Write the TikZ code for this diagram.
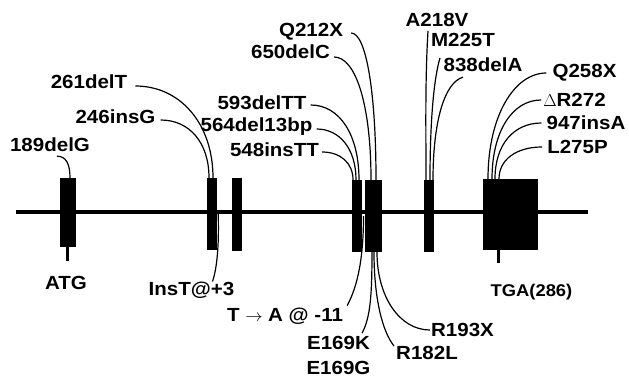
\documentclass[tikz,border=0pt]{standalone}
\usepackage{fontspec}
\setmainfont{Liberation Sans}[FakeStretch=1.08]
\usetikzlibrary{positioning, calc}

\begin{document}
\begin{tikzpicture}[x=1pt, y=-1pt,
  exon/.style={fill=black, draw=none, inner sep=0pt},
  mut/.style={font=\bfseries\fontsize{19}{21}\selectfont, inner sep=0pt},
  lead/.style={line width=1.2pt},
  stem/.style={line width=3pt}]
  \useasboundingbox (0,0) rectangle (629,380);

  % backbone and exons
  \coordinate (bbL) at (16,212);
  \coordinate (bbR) at (588,212);
  \draw[line width=4.5pt] (bbL) -- (bbR);
  \node[exon, minimum width=16pt, minimum height=69pt] (ex1) at (68,212.5) {};
  \node[exon, minimum width=10pt, minimum height=72pt] (ex2) at (212,214) {};
  \node[exon, minimum width=10pt, minimum height=73pt] (ex3) at (237,214.5) {};
  \node[exon, minimum width=10pt, minimum height=72pt] (ex4) at (357,216) {};
  \node[exon, minimum width=17pt, minimum height=72pt] (ex5) at (373.5,216) {};
  \node[exon, minimum width=10pt, minimum height=72pt] (ex6) at (429,216) {};
  \node[exon, minimum width=55pt, minimum height=71pt] (ex7) at (510.5,214.5) {};

  \coordinate (atgtick) at (67,261);
  \coordinate (tgatick) at (498,263);
  \draw[stem] (ex1.south -| atgtick) -- (atgtick);
  \draw[stem] (ex7.south -| tgatick) -- (tgatick);

  % start and stop
  \node[mut] (atg) at (66,283) {ATG};
  \node[mut, font=\bfseries\fontsize{17}{19}\selectfont] (tga) at (531.5,292) {TGA(286)};

  % mutations above the gene
  \node[mut] (m189) at (50,145) {189delG};
  \node[mut] (m261) at (89,82) {261delT};
  \node[mut] (m246) at (115.5,117) {246insG};
  \node[mut] (m593) at (262,103) {593delTT};
  \node[mut] (m564) at (256.5,127) {564del13bp};
  \node[mut] (m548) at (274.5,150) {548insTT};
  \node[mut] (q212) at (311,32) {Q212X};
  \node[mut] (m650) at (290.5,52) {650delC};
  \node[mut] (a218) at (437,20) {A218V};
  \node[mut] (m225) at (463,40) {M225T};
  \node[mut] (m838) at (483,65) {838delA};
  \node[mut] (q258) at (584.5,73) {Q258X};
  \node[mut] (dr272) at (574.5,100) {$\Delta$R272};
  \node[mut] (m947) at (586,123) {947insA};
  \node[mut] (l275) at (577.5,147) {L275P};

  \draw[lead] ([xshift=7pt,yshift=-4pt]m189.south) .. controls +(9,0) and +(0,-14) .. ([xshift=2pt]ex1.north);
  \draw[lead] ([xshift=8pt,yshift=-4pt]m261.east) .. controls +(45,0) and +(0,-54) .. ([xshift=1pt]ex2.north);
  \draw[lead] ([xshift=5pt,yshift=-3pt]m246.east) .. controls +(29,0) and +(0,-35) .. ([xshift=-3pt]ex2.north);
  \draw[lead] ([xshift=4pt,yshift=-2pt]m593.east) .. controls +(29,0) and +(0,-45) .. ([xshift=2pt]ex4.north);
  \draw[lead] ([xshift=4pt,yshift=-2pt]m564.east) .. controls +(23,0) and +(0,-31) .. ([xshift=-1pt]ex4.north);
  \draw[lead] ([xshift=3pt,yshift=-2pt]m548.east) .. controls +(18,0) and +(0,-17) .. ([xshift=-4pt]ex4.north);
  \draw[lead] ([xshift=8pt,yshift=-1pt]q212.east) .. controls +(15,0) and +(0,-88) .. ([xshift=2.5pt]ex5.north);
  \draw[lead] ([xshift=4pt,yshift=-5pt]m650.east) .. controls +(22,0) and +(0,-74) .. ([xshift=-2.5pt]ex5.north);
  \draw[lead] ([xshift=-9pt,yshift=-4pt]a218.south) .. controls +(-3,50) and +(0,-50) .. ([xshift=-3pt]ex6.north);
  \draw[lead] ([xshift=-23pt,yshift=-11pt]m225.south) .. controls +(-6,20) and +(0,-60) .. ([xshift=1pt]ex6.north);
  \draw[lead] ([xshift=-20pt,yshift=-5pt]m838.south) .. controls +(-18,5) and +(0,-60) .. ([xshift=4pt]ex6.north);
  \draw[lead] ([xshift=-6pt]q258.west) .. controls +(-32,0) and +(0,-63) .. ([xshift=-22.5pt]ex7.north);
  \draw[lead] ([xshift=-2pt]dr272.west) .. controls +(-29,0) and +(0,-47) .. ([xshift=-18.5pt]ex7.north);
  \draw[lead] ([xshift=-5pt]m947.west) .. controls +(-28,0) and +(0,-34) .. ([xshift=-15.5pt]ex7.north);
  \draw[lead] ([xshift=-5pt]l275.west) .. controls +(-26,0) and +(0,-19) .. ([xshift=-11.5pt]ex7.north);

  % mutations below the gene
  \node[mut] (ins3) at (191.5,290) {InsT@+3};
  \node[mut] (ta11) at (285,316) {T $\rightarrow$ A @ -11};
  \node[mut] (e169k) at (338.5,343) {E169K};
  \node[mut] (e169g) at (338.5,368) {E169G};
  \node[mut] (r182) at (427,353) {R182L};
  \node[mut] (r193) at (462.5,330) {R193X};

  \draw[lead] ([xshift=1pt]ex2.east) .. controls +(1,35) and +(4,-12) .. ([xshift=21pt]ins3.north);
  \draw[lead] ($(ex4.east)!0.5!(ex5.west)$) .. controls +(0,50) and +(8,-15) .. ([xshift=4pt,yshift=2pt]ta11.north east);
  \draw[lead] ([xshift=-1.5pt]ex5.south) .. controls +(0,45) and +(8,-15) .. ([xshift=-8pt,yshift=3pt]e169k.north east);
  \draw[lead] ([xshift=0.5pt]ex5.south) .. controls +(0,45) and +(-12,-15) .. ([xshift=-2pt,yshift=7pt]r182.west);
  \draw[lead] ([xshift=3.5pt]ex5.south) .. controls +(0,45) and +(-30,0) .. ([xshift=-1pt]r193.west);
\end{tikzpicture}
\end{document}
